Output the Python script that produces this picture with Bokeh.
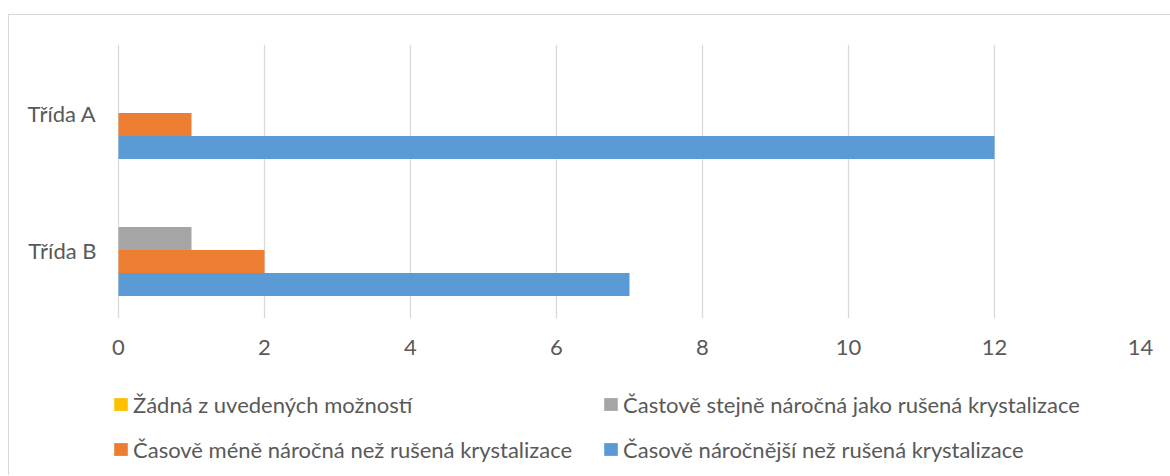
from bokeh.plotting import figure
from bokeh.layouts import column
from bokeh.models import FactorRange, Legend, LegendItem, ColumnDataSource, FixedTicker, Range1d
from bokeh.transform import dodge
from bokeh.embed import file_html
from bokeh.resources import INLINE

categories = ["Třída B", "Třída A"]
series_names = [
    "Žádná z uvedených možností",
    "Častově stejně náročná jako rušená krystalizace",
    "Časově méně náročná než rušená krystalizace",
    "Časově náročnější než rušená krystalizace",
]
zadna = [0, 0]
stejne = [1, 0]
mene = [2, 1]
narocnejsi = [7, 12]
x_ticks = [0, 2, 4, 6, 8, 10, 12, 14]

colors = ["#FFC000", "#A5A5A5", "#ED7D31", "#5B9BD5"]
offsets = [0.252, 0.084, -0.084, -0.252]

FONT = "Lato"
TXT = "#595959"

# frame reaches 6px left of zero so the legend below can line up with the reference
x_start = -6 / 73.0

p = figure(
    y_range=FactorRange(factors=categories, range_padding=0, factor_padding=0),
    x_range=Range1d(x_start, 14),
    width=1161, height=360,
    min_border_left=103, min_border_right=30, min_border_top=29, min_border_bottom=57,
    output_backend="svg", toolbar_location=None,
)
p.outline_line_color = None

src = ColumnDataSource(dict(cat=categories, zadna=zadna, stejne=stejne, mene=mene, narocnejsi=narocnejsi))
keys = ["zadna", "stejne", "mene", "narocnejsi"]
for k, c, off in zip(keys, colors, offsets):
    p.hbar(y=dodge("cat", off, range=p.y_range), right=k, left=0, height=0.168,
           source=src, fill_color=c, line_color=None)

p.xaxis.ticker = FixedTicker(ticks=x_ticks)
p.xgrid.ticker = FixedTicker(ticks=x_ticks)
p.xgrid.grid_line_color = "#D9D9D9"
p.xgrid.grid_line_width = 1.3
p.ygrid.grid_line_color = None

for ax in (p.xaxis, p.yaxis):
    ax.axis_line_color = None
    ax.major_tick_line_color = None
    ax.minor_tick_line_color = None
    ax.major_tick_out = 0
    ax.major_tick_in = 0
    ax.major_label_text_font = FONT
    ax.major_label_text_font_size = "22px"
    ax.major_label_text_color = TXT
p.xaxis.major_label_standoff = 21
p.yaxis.major_label_standoff = 16

# legend panel (bars of zero height act as legend proxies)
p2 = figure(width=1161, height=100, x_axis_type=None, y_axis_type=None,
            y_range=FactorRange(factors=categories), x_range=Range1d(x_start, 14),
            min_border=0, output_backend="svg", toolbar_location=None)
p2.outline_line_color = None
p2.grid.visible = False
leg_renderers = []
for k, c in zip(keys, colors):
    r = p2.hbar(y="cat", right=k, left=0, height=0, source=src, fill_color=c, line_color=None)
    leg_renderers.append(r)

items = [LegendItem(label=n, renderers=[r]) for n, r in zip(series_names, leg_renderers)]
legend = Legend(items=items, ncols=2, orientation="horizontal", location=(0, 6),
                glyph_width=17, glyph_height=16, label_standoff=4, label_height=40,
                label_width=464, spacing=5, padding=0, margin=0,
                label_text_font=FONT, label_text_font_size="22px", label_text_color=TXT,
                border_line_color=None, background_fill_alpha=0)
p2.add_layout(legend, "center")

layout = column(p, p2, spacing=0)
layout.styles = {"margin-left": "8px", "margin-top": "14px",
                 "border-top": "1px solid #d9d9d9", "border-left": "1px solid #d9d9d9"}

open("out.html", "w").write(file_html(layout, INLINE))
